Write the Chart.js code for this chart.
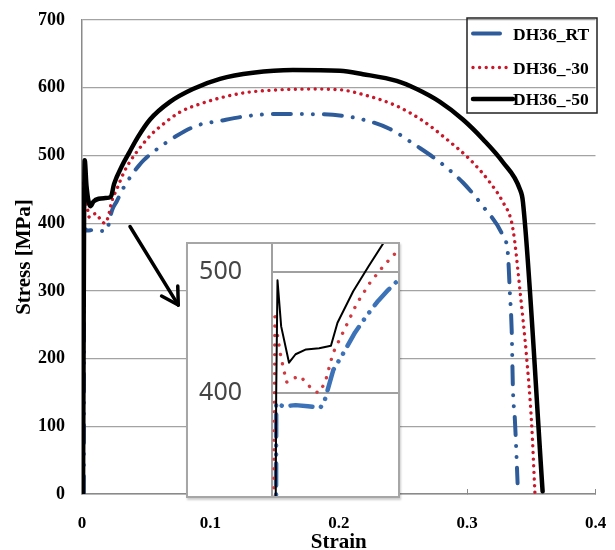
<!DOCTYPE html>
<html><head><meta charset="utf-8">
<script src="https://cdn.jsdelivr.net/npm/chart.js@4.4.0/dist/chart.umd.min.js"></script>
<style>
html,body{margin:0;padding:0;background:#fff;}
#wrap{position:relative;width:615px;height:550px;overflow:hidden;}
#inset{position:absolute;left:186px;top:242px;width:214px;height:256px;box-sizing:border-box;border:2px solid #a6a6a6;background:#fff;box-shadow:1px 2px 2px rgba(0,0,0,0.2);}
canvas{display:block;}
</style></head><body>
<div id="wrap"><canvas id="main" width="615" height="550"></canvas>
<div id="inset"><canvas id="zoom" width="210" height="252"></canvas></div></div>
<script>
// ---- data ----
const seriesNames = ['DH36_RT', 'DH36_-30', 'DH36_-50'];

const rtStrain = [0.0014,0.0015,0.0016,0.0042,0.0090,0.0137,0.0185,0.0200,0.0234,0.0270,0.0317,0.0362,0.0405,0.0443,0.0481,0.0582,0.0738,0.0893,0.1075,0.1283,0.1488,0.1750,0.1955,0.2188,0.2399,0.2607,0.2788,0.2967,0.3123,0.3279,0.3318,0.3333,0.3347,0.3357,0.3372,0.3386,0.3393];
const rtStress = [0,200,392,389,390,389,388,393,419,432,450,464,476,485,493,509,529,544,551,558,561,561,560,553,539,514,490,460,425,381,354,297,243,154,110,50,16];

const m30Strain = [0.0004,0.0006,0.0011,0.0031,0.0045,0.0056,0.0080,0.0107,0.0145,0.0176,0.0202,0.0233,0.0271,0.0324,0.0374,0.0426,0.0530,0.0631,0.0763,0.0919,0.1098,0.1283,0.1542,0.1799,0.2009,0.2188,0.2451,0.2656,0.2840,0.3022,0.3178,0.3279,0.3347,0.3372,0.3411,0.3463,0.3502,0.3528];
const m30Stress = [0,250,463,433,419,409,412,414,405,400,408,433,450,474,491,505,529,546,564,576,586,593,597,598,597,590,573,551,524,494,460,431,401,371,302,203,105,2];

const m50Strain = [0.0008,0.0012,0.0016,0.0021,0.0035,0.0065,0.0090,0.0130,0.0180,0.0225,0.0250,0.0310,0.0370,0.0435,0.0530,0.0685,0.0864,0.1075,0.1332,0.1643,0.2009,0.2188,0.2451,0.2607,0.2788,0.2967,0.3123,0.3279,0.3411,0.3435,0.3588];
const m50Stress = [0,200,400,493,455,425,432,436,437,439,458,484,505,527,553,579,598,613,622,626,625,620,610,598,579,553,524,490,450,431,4];

const xTicks = [0, 0.1, 0.2, 0.3, 0.4];
const xTickLabels = ['0', '0.1', '0.2', '0.3', '0.4'];
const yTicks = [0, 100, 200, 300, 400, 500, 600, 700];
const insetYTicks = [400, 500];
const arrowTail = [0.0374, 395];
const arrowTip = [0.075, 279];

// ---- styling ----
const serif = "'Liberation Serif', 'Times New Roman', serif";
const strains = [rtStrain, m30Strain, m50Strain];
const stresses = [rtStress, m30Stress, m50Stress];
const mainStyle = [
  {color:'#2e5c9a', width:4, dash:[18,11,0.01,11,0.01,11], order:2},
  {color:'#c8182a', width:3.4, dash:[0.01,6.6], order:1},
  {color:'#000000', width:4.5, dash:[], order:0}
];
const insetStyle = [
  {color:'#3b72b8', width:4.5, dash:[22,9,0.01,9,0.01,9], order:2},
  {color:'#d03a40', width:3.4, dash:[0.01,9.5], order:1},
  {color:'#000000', width:2, dash:[], order:0}
];
function pts(xs, ys){ return xs.map((x,i)=>({x:x, y:ys[i]})); }
function makeSets(st, smooth){
  return seriesNames.map((n,i)=>({
    label:n, data:pts(strains[i], stresses[i]),
    borderColor:st[i].color, backgroundColor:st[i].color,
    borderWidth:st[i].width, borderDash:st[i].dash,
    borderCapStyle:'round', borderJoinStyle:'round',
    cubicInterpolationMode: smooth ? 'monotone' : 'default', tension:0,
    pointRadius:0, fill:false, order:st[i].order
  }));
}

const arrowPlugin = {
  id:'arrow',
  afterDatasetsDraw(chart){
    const {ctx, scales:{x, y}} = chart;
    const x0 = x.getPixelForValue(arrowTail[0]), y0 = y.getPixelForValue(arrowTail[1]);
    const x1 = x.getPixelForValue(arrowTip[0]), y1 = y.getPixelForValue(arrowTip[1]);
    const ang = Math.atan2(y1-y0, x1-x0);
    const L = 19, spread = Math.PI/6;
    ctx.save();
    ctx.strokeStyle = '#000'; ctx.lineWidth = 3.5; ctx.lineCap = 'round'; ctx.lineJoin='round';
    ctx.beginPath(); ctx.moveTo(x0,y0); ctx.lineTo(x1,y1); ctx.stroke();
    ctx.beginPath();
    ctx.moveTo(x1 - L*Math.cos(ang-spread), y1 - L*Math.sin(ang-spread));
    ctx.lineTo(x1,y1);
    ctx.lineTo(x1 - L*Math.cos(ang+spread), y1 - L*Math.sin(ang+spread));
    ctx.stroke();
    ctx.restore();
  }
};

const boxLegend = {
  id:'boxLegend',
  afterDraw(chart){
    const ctx = chart.ctx, a = chart.chartArea;
    const bx = a.right - 128.5, by = a.top - 2, bw = 130, bh = 95;
    ctx.save();
    ctx.strokeStyle = '#222'; ctx.lineWidth = 1.5;
    ctx.strokeRect(bx, by, bw, bh);
    const rows = [by+15.5, by+49.5, by+81];
    const sampleLen = [27, 38, 40];
    ctx.font = 'bold 17.5px ' + serif;
    ctx.textBaseline = 'middle'; ctx.fillStyle = '#000';
    seriesNames.forEach((n,i)=>{
      const st = mainStyle[i];
      ctx.beginPath();
      ctx.strokeStyle = st.color; ctx.lineWidth = st.width;
      ctx.lineCap = 'round';
      ctx.setLineDash(i === 0 ? [] : st.dash);
      ctx.moveTo(bx+6, rows[i]); ctx.lineTo(bx+6+sampleLen[i], rows[i]);
      ctx.stroke();
      ctx.setLineDash([]);
      ctx.fillText(n, bx+46, rows[i]+1.5);
    });
    ctx.restore();
  }
};

new Chart(document.getElementById('main'), {
  type:'line',
  data:{datasets:makeSets(mainStyle, true)},
  options:{
    responsive:false, animation:false,
    layout:{padding:{top:20, right:19.5, left:0, bottom:0}},
    plugins:{legend:{display:false}, tooltip:{enabled:false}},
    scales:{
      x:{
        type:'linear', min:0, max:0.4,
        afterBuildTicks:s=>{ s.ticks = xTicks.map(v=>({value:v})); },
        afterFit:s=>{ s.height = 56; s.paddingLeft = 0; s.paddingRight = 0; },
        ticks:{callback:v=>xTickLabels[xTicks.indexOf(v)], font:{family:serif, size:17, weight:'bold'}, color:'#000', padding:24, maxRotation:0, autoSkip:false},
        grid:{drawOnChartArea:false, drawTicks:true, tickLength:-5, color:'#8a8a8a', lineWidth:1},
        border:{color:'#8a8a8a', width:1.5},
        title:{display:true, text:'Strain', color:'#000', font:{family:serif, size:21, weight:'bold', lineHeight:0.7}, padding:{top:0, bottom:0}}
      },
      y:{
        min:0, max:700,
        afterBuildTicks:s=>{ s.ticks = yTicks.map(v=>({value:v})); },
        afterFit:s=>{ s.width = 82; s.paddingTop = 0; s.paddingBottom = 0; },
        ticks:{callback:v=>String(v), font:{family:serif, size:18, weight:'bold'}, color:'#000', padding:17},
        grid:{color:'#a3a3a3', lineWidth:1.2, drawTicks:false},
        border:{color:'#8a8a8a', width:1.5},
        title:{display:true, text:'Stress [MPa]', color:'#000', font:{family:serif, size:21, weight:'bold'}, padding:{top:12, bottom:0}}
      }
    }
  },
  plugins:[arrowPlugin, boxLegend]
});

new Chart(document.getElementById('zoom'), {
  type:'line',
  data:{datasets:makeSets(insetStyle, false)},
  options:{
    responsive:false, animation:false,
    layout:{padding:0},
    plugins:{legend:{display:false}, tooltip:{enabled:false}},
    scales:{
      x:{type:'linear', min:0, max:0.0481, display:false},
      y:{
        min:315, max:523,
        afterBuildTicks:s=>{ s.ticks = insetYTicks.map(v=>({value:v})); },
        afterFit:s=>{ s.width = 84; s.paddingTop = 0; s.paddingBottom = 0; },
        ticks:{callback:v=>String(v), font:{family:"'Noto Sans', sans-serif", size:25}, color:'#454545', padding:30},
        grid:{color:'#a0a0a0', lineWidth:2, drawTicks:false},
        border:{color:'#a0a0a0', width:2}
      }
    }
  }
});
</script>
</body></html>
